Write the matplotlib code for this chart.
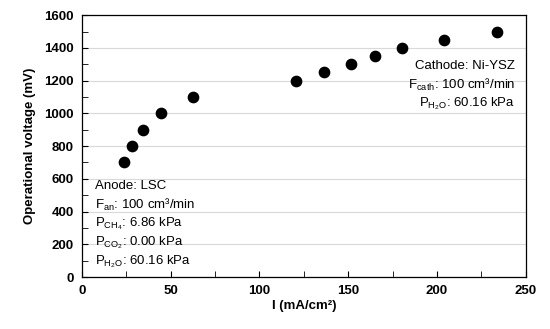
import matplotlib
matplotlib.use("Agg")
import matplotlib.pyplot as plt
from matplotlib.ticker import MultipleLocator

plt.rcParams["font.family"] = ["Liberation Sans", "DejaVu Sans"]
plt.rcParams["mathtext.fontset"] = "custom"
plt.rcParams["mathtext.rm"] = "Liberation Sans"
plt.rcParams["mathtext.it"] = "Liberation Sans"

current = [23.6, 28.2, 34.3, 44.5, 62.5, 120.5, 136.3, 151.5, 165.0, 180.0, 203.8, 233.7]
voltage = [700, 800, 900, 1000, 1100, 1200, 1250, 1300, 1350, 1400, 1450, 1500]

anode_lines = [
    "Anode: LSC",
    r"F$_{\mathregular{an}}$: 100 cm³/min",
    r"P$_{\mathregular{CH_4}}$: 6.86 kPa",
    r"P$_{\mathregular{CO_2}}$: 0.00 kPa",
    r"P$_{\mathregular{H_2O}}$: 60.16 kPa",
]
cathode_lines = [
    "Cathode: Ni-YSZ",
    r"F$_{\mathregular{cath}}$: 100 cm³/min",
    r"P$_{\mathregular{H_2O}}$: 60.16 kPa",
]

fig = plt.figure(figsize=(5.5, 3.29), dpi=100)
ax = fig.add_axes([0.149, 0.158, 0.807, 0.796])

ax.scatter(current, voltage, s=55, color="black", zorder=3)

ax.set_xlim(0, 250)
ax.set_ylim(0, 1600)
ax.xaxis.set_major_locator(MultipleLocator(50))
ax.xaxis.set_minor_locator(MultipleLocator(25))
ax.yaxis.set_major_locator(MultipleLocator(200))
ax.yaxis.set_minor_locator(MultipleLocator(100))
ax.tick_params(which="both", direction="in", top=False, right=False, labelsize=9.5)
ax.tick_params(which="major", length=4, pad=6)
ax.tick_params(which="minor", length=4)
for lbl in ax.get_xticklabels() + ax.get_yticklabels():
    lbl.set_fontweight("bold")
ax.grid(axis="y", color="#d9d9d9", linewidth=0.8)
ax.set_axisbelow(True)
for sp in ax.spines.values():
    sp.set_color("black")
    sp.set_linewidth(0.9)

ax.set_xlabel("I (mA/cm²)", fontsize=9.5, fontweight="bold", labelpad=2)
ax.set_ylabel("Operational voltage (mV)", fontsize=9.5, fontweight="bold", labelpad=6)

# annotation blocks, placed in figure pixels
for i, line in enumerate(anode_lines):
    fig.text(95 / 550, 1 - (186 + 19 * i) / 329, line, fontsize=9.5, va="center", ha="left")
for i, line in enumerate(cathode_lines):
    fig.text(515 / 550, 1 - (66 + 19 * i) / 329, line, fontsize=9.5, va="center", ha="right")

fig.savefig("out.png", dpi=100)
